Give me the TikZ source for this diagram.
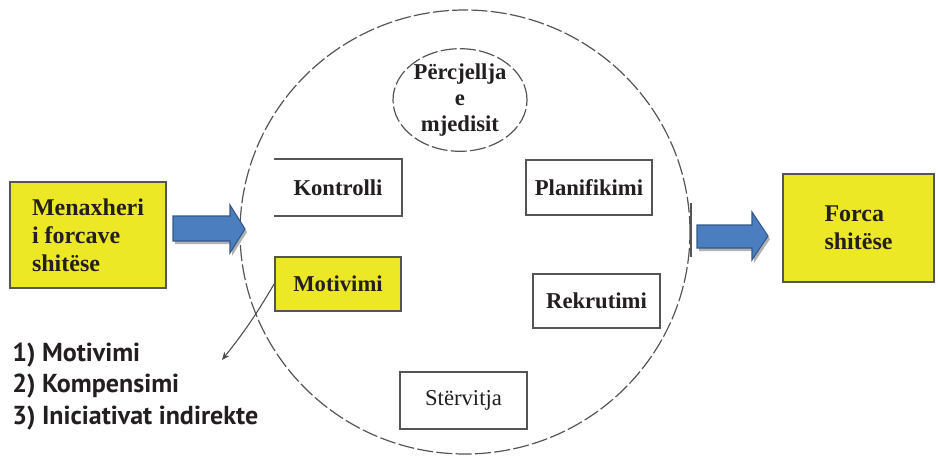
\documentclass[tikz,border=0pt]{standalone}
\usepackage{fontspec}
\setmainfont{Liberation Serif}
\newfontfamily\listfont{PT Sans}
\usetikzlibrary{shapes.geometric,arrows.meta}
\definecolor{boxyellow}{RGB}{236,232,38}
\definecolor{arrowblue}{RGB}{74,126,190}
\definecolor{arrowedge}{RGB}{52,88,136}
\definecolor{inkgray}{RGB}{85,85,85}
\definecolor{textink}{RGB}{35,31,32}
\tikzset{
  plainbox/.style={draw=inkgray, line width=1.3pt, fill=white, rectangle,
    inner sep=0pt, text=textink, font=\fontsize{17}{20}\selectfont\bfseries},
  yellowbox/.style={plainbox, fill=boxyellow},
  bigbox/.style={draw=inkgray, line width=1pt, fill=boxyellow, rectangle, inner sep=0pt,
    text=textink, align=left, font=\fontsize{18}{21}\selectfont\bfseries},
  dashring/.style={draw=inkgray, line width=0.9pt, ellipse, inner sep=0pt,
    dash pattern=on 12pt off 2.5pt},
  blockarrow/.style={fill=arrowblue, draw=arrowedge, line width=0.8pt, line join=miter},
  arrowshade/.style={fill=black!30},
  listitem/.style={anchor=west, inner sep=0pt, text=textink,
    font=\listfont\fontsize{19.5}{22}\selectfont\bfseries},
  pointer/.style={draw=black!70, line width=0.8pt, -{Stealth[length=6pt,width=5pt]}}
}
\begin{document}
\begin{tikzpicture}[x=0.75pt,y=-0.75pt]
  \useasboundingbox (0,0) rectangle (938,456);

  % outer cycle and environment bubble
  \node[dashring, minimum width=337.5pt, minimum height=333pt] (ring) at (465,232) {};
  \node[dashring, minimum width=100.5pt, minimum height=75pt,
        align=center, text=textink, font=\fontsize{17}{19.5}\selectfont\bfseries]
        (env) at (460,100) {Përcjellja\\e\\mjedisit};

  % activities inside the cycle
  \node[plainbox, draw=none, minimum width=94.5pt, minimum height=41.25pt] (kon) at (338,187.5) {Kontrolli};
  \draw[inkgray, line width=1.3pt] (kon.north west) -- (kon.north east) -- (kon.south east) -- (kon.south west);
  \node[plainbox, minimum width=94.5pt, minimum height=41.25pt] (plan) at (589,187.5) {Planifikimi};
  \node[yellowbox, minimum width=94.5pt, minimum height=40.5pt] (mot) at (338,284) {Motivimi};
  \node[plainbox, minimum width=95.25pt, minimum height=40.5pt] (rek) at (596.5,301) {Rekrutimi};
  \node[plainbox, font=\fontsize{17}{20}\selectfont, minimum width=95.25pt, minimum height=42.75pt] (ster) at (463.5,400.5) {Stërvitja};

  % input and output
  \node[bigbox, minimum width=117pt, minimum height=79.5pt] (man) at (88,235) {Menaxheri\\i forcave\\shitëse};
  \node[bigbox, minimum width=113.25pt, minimum height=81pt] (force) at (858.5,228) {Forca\\shitëse};

  % block arrows (shadow first)
  \fill[arrowshade] (175,219) -- (232,219) -- (232,208) -- (247,232) -- (232,256) -- (232,244) -- (175,244) -- cycle;
  \path[blockarrow] (173,216) -- (230,216) -- (230,205) -- (245,229) -- (230,253) -- (230,241) -- (173,241) -- cycle;
  \fill[arrowshade] (699,228) -- (754,228) -- (754,215) -- (770,239) -- (754,263) -- (754,251) -- (699,251) -- cycle;
  \path[blockarrow] (697,225) -- (752,225) -- (752,212) -- (768,236) -- (752,260) -- (752,248) -- (697,248) -- cycle;
  \draw[inkgray, line width=1.5pt] (691,203) -- (691,257);

  % motivation details
  \coordinate (listtip) at (222,360);
  \draw[pointer] (mot.west) to[bend left=4] (listtip);
  \node[listitem] (l1) at (12,355) {1) Motivimi};
  \node[listitem] (l2) at (12,386) {2) Kompensimi};
  \node[listitem] (l3) at (12,418) {3) Iniciativat indirekte};
\end{tikzpicture}
\end{document}
